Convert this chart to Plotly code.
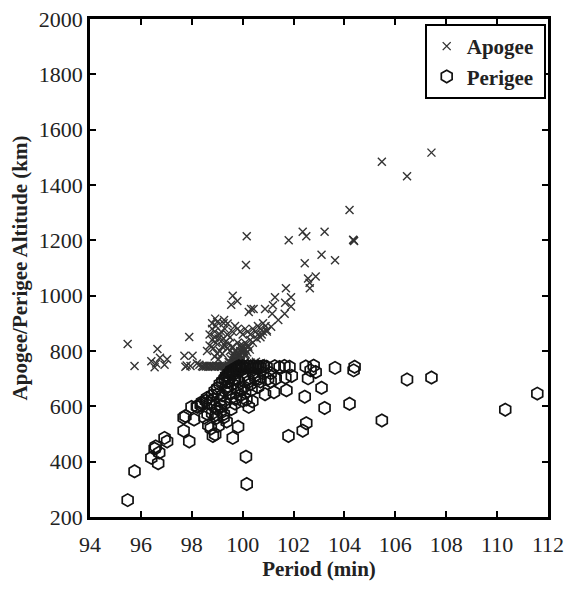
import plotly.graph_objects as go

# ---------------- data ----------------
# Apogee points: period (min), altitude (km)
apogee_period = [
    107.42, 105.47, 106.46, 104.20, 104.36, 104.38, 104.34, 100.16, 100.13, 101.81,
    102.36, 102.50, 103.22, 103.10, 103.63, 102.44, 102.57, 102.64, 102.87, 102.63,
    101.70, 101.90, 101.90, 101.67, 101.65, 101.27, 101.19, 101.40, 101.16, 100.88,
    101.12, 100.95, 99.61, 99.55, 99.79, 100.33, 100.24, 100.43, 98.92, 99.27,
    99.41, 97.90, 95.48, 95.75, 96.65, 96.41, 96.54, 96.75, 96.93, 97.03,
    96.60, 97.71, 97.75, 98.03, 97.95, 97.80, 98.20, 98.30,
    # grey row near 745 km
    98.40, 98.45, 98.50, 98.55, 98.60, 98.65, 98.70, 98.75, 98.80, 98.85,
    98.90, 98.95, 99.00, 99.05, 99.10, 99.15, 99.20, 99.25,
    # diagonal band / upper cloud
    98.60, 98.70, 98.80, 98.90, 98.95, 99.00, 98.80, 98.90, 99.10, 99.20,
    99.30, 99.40, 99.50, 99.60, 99.70, 99.80, 99.90, 100.00, 100.10, 100.20,
    100.30, 100.40, 100.50, 100.60, 100.70, 100.80, 100.90, 100.60, 100.70, 100.80,
    99.30, 99.40, 99.50, 99.60, 99.70, 99.80, 99.90, 100.00, 100.10, 100.20,
    100.30, 100.40, 99.20, 99.10, 99.00, 98.90, 99.15, 99.25, 98.70, 98.80,
    98.85, 98.95, 99.05, 99.35, 99.45, 100.55, 100.75, 100.95, 99.05, 99.20,
    # dense core
    99.30, 99.35, 99.40, 99.45, 99.50, 99.55, 99.60, 99.65, 99.70, 99.75,
    99.80, 99.85, 99.90, 99.95, 100.00, 99.40, 99.50, 99.60, 99.70, 99.80,
    99.90, 100.00, 100.10, 99.45, 99.55, 99.65, 99.75, 99.85, 99.95, 100.05,
    99.50, 99.60, 99.70, 99.80, 99.90, 99.35, 99.45, 99.55, 99.65, 99.75,
    99.32, 99.42, 99.52, 99.62, 99.72, 99.82, 99.92, 100.02, 100.12, 100.22,
    99.38, 99.48, 99.58, 99.68, 99.78, 99.88, 99.98, 100.08, 100.18, 100.28,
    # horizontal black bar
    99.90, 100.00, 100.10, 100.20, 100.30, 100.40, 100.50, 100.60, 100.70, 100.80,
    99.95, 100.05, 100.15, 100.25, 100.35, 100.45, 100.55, 100.65, 100.75, 100.85,
    99.92, 100.02, 100.12, 100.22, 100.32, 100.42, 100.52, 100.62, 100.72, 100.82,
]
apogee_alt = [
    1517, 1484, 1432, 1310, 1200, 1198, 1202, 1215, 1111, 1200,
    1231, 1215, 1231, 1148, 1128, 1117, 1062, 1027, 1069, 1047,
    1027, 994, 961, 974, 935, 994, 965, 912, 935, 952,
    888, 870, 1000, 967, 981, 952, 941, 952, 917, 912,
    899, 851, 825, 746, 807, 763, 741, 776, 750, 770,
    755, 783, 743, 783, 746, 748, 755, 750,
    745, 743, 747, 744, 746, 743, 747, 745, 744, 746,
    743, 747, 745, 744, 746, 743, 747, 745,
    800, 820, 840, 870, 890, 905, 880, 850, 860, 840,
    880, 860, 850, 870, 890, 880, 870, 860, 880, 870,
    860, 880, 870, 890, 880, 870, 890, 860, 850, 900,
    820, 810, 800, 815, 800, 830, 820, 810, 830, 820,
    840, 830, 790, 800, 790, 780, 870, 900, 860, 900,
    810, 830, 845, 835, 825, 845, 860, 875, 770, 815,
    720, 730, 740, 750, 760, 770, 780, 790, 800, 770,
    780, 790, 800, 810, 820, 710, 720, 730, 740, 750,
    760, 770, 790, 760, 755, 765, 775, 785, 795, 800,
    700, 705, 715, 725, 735, 735, 745, 755, 765, 760,
    725, 735, 745, 755, 765, 775, 785, 795, 805, 815,
    715, 725, 735, 745, 755, 765, 775, 785, 795, 805,
    745, 748, 742, 750, 746, 744, 749, 743, 747, 745,
    738, 755, 740, 752, 737, 756, 741, 753, 739, 750,
    760, 733, 762, 731, 758, 735, 761, 732, 757, 736,
]

# Perigee points: period (min), altitude (km)
perigee_period = [
    95.48, 95.75, 96.41, 96.54, 96.58, 96.68, 96.72, 96.93, 97.03, 97.68,
    97.90, 97.68, 97.75, 98.09, 97.99, 98.23, 98.40, 98.65, 98.83, 98.92,
    98.62, 98.98, 99.26, 99.37, 99.61, 99.82, 100.13, 100.16, 99.54, 100.24,
    100.38, 100.88, 101.23, 101.72, 101.68, 101.80, 102.36, 102.50, 102.44, 102.57,
    102.87, 103.10, 103.22, 103.63, 104.20, 104.36, 104.40, 105.47, 106.46, 107.42,
    110.32, 111.58,
    # along the ~745 km line
    100.94, 101.26, 101.45, 101.64, 101.84, 102.48, 102.67, 102.79, 101.93, 101.30,
    101.10,
    # diagonal band
    98.20, 98.40, 98.60, 98.80, 98.90, 99.00, 99.10, 99.20, 99.30, 99.40,
    99.50, 98.70, 98.90, 99.10, 99.00, 98.80, 99.20, 99.40, 99.60, 99.30,
    99.50, 99.70, 99.80, 99.90, 100.00, 99.70, 100.10, 100.30, 100.50, 100.60,
    100.20, 100.40, 100.80, 101.00, 101.10, 98.50, 98.75, 99.05, 99.15, 99.25,
    98.35, 98.55, 98.85, 99.05, 99.35, 99.45, 99.65, 99.85, 100.05, 100.25,
    100.45, 100.65, 98.95, 99.15, 99.55, 99.75, 100.15, 100.35, 99.95, 100.70,
    # dense core
    99.30, 99.35, 99.40, 99.45, 99.50, 99.55, 99.60, 99.65, 99.70, 99.75,
    99.80, 99.85, 99.90, 99.95, 100.00, 100.10, 100.20, 100.30, 100.40, 100.50,
    100.60, 100.70, 100.80,
]
perigee_alt = [
    261, 365, 414, 447, 455, 394, 433, 486, 473, 512,
    473, 559, 565, 552, 598, 598, 610, 532, 493, 499,
    572, 559, 572, 545, 486, 526, 418, 319, 631, 598,
    618, 644, 651, 658, 704, 493, 512, 539, 635, 701,
    724, 667, 594, 739, 609, 730, 743, 549, 697, 704,
    588, 646,
    743, 745, 742, 746, 743, 744, 730, 747, 710, 700,
    690,
    600, 615, 630, 640, 655, 665, 680, 690, 700, 710,
    720, 610, 600, 620, 590, 575, 640, 660, 680, 610,
    650, 700, 660, 640, 620, 610, 650, 680, 700, 670,
    700, 720, 720, 700, 720, 560, 520, 530, 600, 560,
    605, 620, 625, 645, 670, 690, 700, 690, 670, 690,
    710, 700, 570, 585, 590, 630, 625, 660, 660, 690,
    700, 710, 690, 720, 705, 730, 715, 725, 735, 740,
    730, 745, 740, 735, 745, 740, 745, 742, 745, 740,
    744, 742, 745,
]

x_ticks = [94, 96, 98, 100, 102, 104, 106, 108, 110, 112]
y_ticks = [200, 400, 600, 800, 1000, 1200, 1400, 1600, 1800, 2000]

# ---------------- figure ----------------
FONT = "Liberation Serif, Times New Roman, serif"

fig = go.Figure()
fig.add_trace(go.Scatter(
    x=apogee_period, y=apogee_alt, mode="markers", name="<b>Apogee</b>&nbsp;",
    marker=dict(symbol="x-thin-open", size=8, color="#333333",
                line=dict(width=1.4, color="#333333")),
))
fig.add_trace(go.Scatter(
    x=perigee_period, y=perigee_alt, mode="markers", name="<b>Perigee</b>&nbsp;",
    marker=dict(symbol="hexagon-open", size=12.5, color="#111111",
                line=dict(width=1.7, color="#111111")),
))

axis_common = dict(
    showline=True, linecolor="black", linewidth=2.5, mirror="ticks",
    ticks="inside", ticklen=6, tickwidth=2, tickcolor="black",
    showgrid=False, zeroline=False,
    tickfont=dict(family=FONT, size=22, color="#222"),
)
fig.update_xaxes(range=[94, 112], tickvals=x_ticks, ticklabeloverflow="allow",
                 ticklabelstandoff=6,
                 title=dict(text="<b>Period (min)</b>",
                            font=dict(family=FONT, size=21, color="#222"), standoff=6),
                 **axis_common)
fig.update_yaxes(range=[200, 2000], tickvals=y_ticks, ticklabeloverflow="allow",
                 title=dict(text="<b>Apogee/Perigee Altitude (km)</b>",
                            font=dict(family=FONT, size=21, color="#222"), standoff=6),
                 **axis_common)

fig.update_layout(
    width=571, height=589,
    margin=dict(l=90, r=17, t=7, b=72),
    plot_bgcolor="white", paper_bgcolor="white",
    showlegend=True,
    legend=dict(x=0.995, y=0.99, xanchor="right", yanchor="top",
                bordercolor="black", borderwidth=2, bgcolor="white",
                font=dict(family=FONT, size=21, color="#222"),
                itemsizing="trace", tracegroupgap=0),
    font=dict(family=FONT),
)

fig.write_html("out.html")
